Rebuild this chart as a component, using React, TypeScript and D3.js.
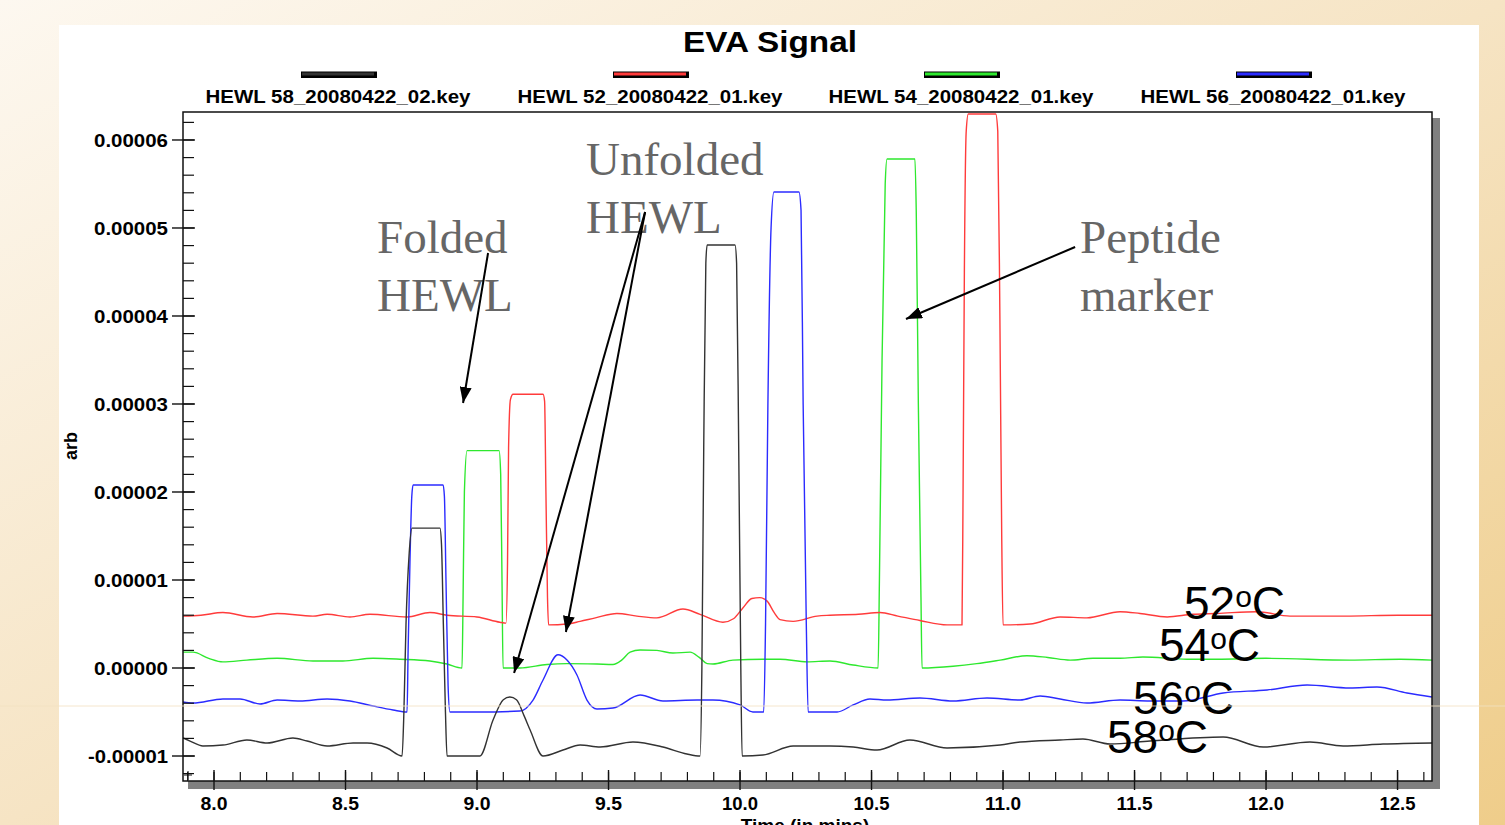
import React from 'react';
import * as d3 from 'd3';

const W = 1505;
const H = 825;

const titleText = 'EVA Signal';
const xAxisTitle = 'Time (in mins)';
const yAxisTitle = 'arb';

// legend order as in the reference
const seriesNames = [
  'HEWL 58_20080422_02.key',
  'HEWL 52_20080422_01.key',
  'HEWL 54_20080422_01.key',
  'HEWL 56_20080422_01.key',
];
const seriesColors = ['#333333', '#ff3b3b', '#2ee82e', '#2b2bff'];

const xMajorTicks = [8.0, 8.5, 9.0, 9.5, 10.0, 10.5, 11.0, 11.5, 12.0, 12.5];
const xTickLabels = ['8.0', '8.5', '9.0', '9.5', '10.0', '10.5', '11.0', '11.5', '12.0', '12.5'];
// values in units of 1e-6 arb
const yMajorTicks = [-10, 0, 10, 20, 30, 40, 50, 60];
const yTickLabels = ['-0.00001', '0.00000', '0.00001', '0.00002', '0.00003', '0.00004', '0.00005', '0.00006'];

// [time (min), signal (1e-6 arb)]
const hewl58: [number, number][] = [
  [7.882, -7.95], [7.909, -8.3], [7.958, -8.86], [8.034, -8.75], [8.125, -8.18], [8.202, -8.52],
  [8.300, -7.95], [8.354, -8.3], [8.430, -8.86], [8.529, -8.52], [8.582, -8.52], [8.658, -9.09],
  [8.715, -10.0], [8.722, -5], [8.730, 5], [8.742, 13], [8.753, 15.9], [8.859, 15.9], [8.865, 14],
  [8.872, 5], [8.880, -5], [8.886, -10.0], [9.011, -10.0], [9.061, -5.91], [9.100, -3.6], [9.125, -3.3],
  [9.150, -3.6], [9.180, -5.5], [9.202, -7.05], [9.251, -10.0], [9.327, -9.32], [9.392, -8.75],
  [9.468, -8.98], [9.593, -8.41], [9.707, -8.98], [9.798, -9.77], [9.848, -10.0], [9.855, 0], [9.862, 25],
  [9.870, 46], [9.875, 48.07], [9.981, 48.07], [9.987, 46], [9.995, 25], [10.003, 0], [10.008, -10.0],
  [10.087, -9.89], [10.202, -8.86], [10.342, -8.86], [10.430, -8.98], [10.521, -9.32], [10.646, -8.18],
  [10.787, -9.09], [10.989, -8.75], [11.065, -8.41], [11.217, -8.18], [11.304, -8.07], [11.407, -8.64],
  [11.559, -8.3], [11.837, -7.84], [11.989, -8.98], [12.167, -8.41], [12.293, -8.86], [12.445, -8.64],
  [12.631, -8.52],
];

const hewl52: [number, number][] = [
  [7.882, 5.9], [7.95, 6.0], [8.034, 6.3], [8.148, 5.8], [8.240, 6.2], [8.376, 5.9], [8.430, 6.1],
  [8.517, 5.8], [8.593, 6.1], [8.734, 5.8], [8.821, 6.3], [8.886, 6.0], [9.000, 5.8], [9.087, 5.2],
  [9.110, 5.1], [9.116, 12], [9.120, 25], [9.127, 30.5], [9.137, 31.1], [9.251, 31.1], [9.257, 30.3],
  [9.262, 20], [9.268, 8], [9.272, 4.9], [9.342, 5.0], [9.392, 5.3], [9.45, 5.7], [9.532, 6.2],
  [9.608, 5.9], [9.684, 5.7], [9.783, 6.7], [9.848, 6.1], [9.935, 5.2], [9.975, 5.6], [10.01, 6.8],
  [10.045, 7.9], [10.075, 8.0], [10.103, 7.6], [10.13, 6.3], [10.152, 5.5], [10.202, 5.3], [10.293, 5.9],
  [10.342, 6.0], [10.45, 6.1], [10.532, 6.3], [10.60, 5.9], [10.684, 5.4], [10.787, 4.9], [10.844, 4.9],
  [10.848, 20], [10.853, 45], [10.860, 61], [10.868, 62.95], [10.972, 62.95], [10.980, 61], [10.988, 40],
  [10.995, 15], [11.000, 4.9], [11.103, 5.0], [11.217, 5.8], [11.319, 5.7], [11.445, 6.4], [11.521, 6.2],
  [11.624, 5.8], [11.72, 6.1], [11.814, 6.2], [11.966, 6.4], [12.091, 5.9], [12.30, 5.9], [12.50, 6.0],
  [12.631, 6.0],
];

const hewl54: [number, number][] = [
  [7.882, 1.8], [7.920, 1.8], [7.98, 1.1], [8.034, 0.7], [8.125, 0.9], [8.240, 1.1], [8.376, 0.8],
  [8.490, 0.8], [8.605, 1.1], [8.707, 1.0], [8.821, 0.8], [8.886, 0.45], [8.943, 0.0], [8.947, 8],
  [8.952, 20], [8.962, 24.7], [9.084, 24.7], [9.090, 22], [9.095, 10], [9.099, 0.0], [9.163, 0.0],
  [9.266, 0.4], [9.342, 0.5], [9.456, 0.45], [9.517, 0.4], [9.55, 0.9], [9.582, 1.8], [9.620, 2.05],
  [9.684, 2.0], [9.745, 1.7], [9.810, 1.8], [9.845, 1.2], [9.875, 0.5], [9.897, 0.45], [9.973, 0.9],
  [10.087, 1.0], [10.152, 1.0], [10.255, 0.7], [10.342, 0.8], [10.430, 0.34], [10.525, 0.0], [10.530, 10],
  [10.540, 35], [10.552, 55], [10.559, 57.84], [10.665, 57.84], [10.670, 52], [10.678, 30], [10.688, 8],
  [10.692, 0.0], [10.810, 0.2], [10.90, 0.5], [10.989, 0.9], [11.091, 1.4], [11.17, 1.2], [11.255, 0.9],
  [11.342, 1.1], [11.445, 1.1], [11.532, 1.25], [11.70, 1.0], [11.814, 1.0], [12.0, 1.1], [12.319, 0.9],
  [12.510, 1.0], [12.631, 0.9],
];

const hewl56: [number, number][] = [
  [7.882, -3.86], [7.920, -3.98], [8.034, -3.52], [8.099, -3.52], [8.175, -4.09], [8.240, -3.64],
  [8.327, -3.75], [8.430, -3.52], [8.517, -3.75], [8.605, -4.32], [8.681, -4.77], [8.734, -5.0],
  [8.738, 2], [8.745, 12], [8.752, 19.5], [8.757, 20.8], [8.871, 20.8], [8.876, 19.5], [8.882, 10],
  [8.890, -2], [8.897, -5.0], [9.011, -5.0], [9.163, -4.89], [9.213, -3.64], [9.251, -1.36], [9.308, 1.5],
  [9.342, 0.9], [9.380, -0.8], [9.418, -3.64], [9.456, -4.66], [9.517, -4.55], [9.620, -3.07],
  [9.707, -3.75], [9.837, -3.64], [9.897, -3.64], [10.000, -4.2], [10.049, -5.0], [10.090, -5.0],
  [10.097, 5], [10.106, 30], [10.118, 50], [10.129, 54.09], [10.224, 54.09], [10.232, 52], [10.240, 30],
  [10.252, 5], [10.259, -5.0], [10.369, -5.0], [10.430, -4.2], [10.494, -3.52], [10.559, -3.64],
  [10.684, -3.41], [10.810, -3.75], [10.939, -3.41], [11.065, -3.64], [11.141, -3.18], [11.217, -3.52],
  [11.319, -3.98], [11.445, -3.64], [11.559, -3.75], [11.684, -3.75], [11.837, -2.84], [12.004, -2.5],
  [12.156, -1.93], [12.319, -2.27], [12.422, -2.16], [12.536, -2.84], [12.631, -3.3],
];

const seriesData = [hewl58, hewl52, hewl54, hewl56];

// annotation arrows in data coordinates [from, to]
const arrows: [[number, number], [number, number]][] = [
  [[9.042, 47.16], [8.947, 30.11]],
  [[9.639, 51.82], [9.141, -0.57]],
  [[9.639, 51.82], [9.338, 4.09]],
  [[11.274, 47.84], [10.631, 39.66]],
];

const tempLabels = ['52', '54', '56', '58'];

export default function App() {
  const L = 183, R = 1432, T = 112, B = 781;
  const x = d3.scaleLinear().domain([7.8821, 12.631]).range([L, R]);
  const y = d3.scaleLinear().domain([-12.84, 63.18]).range([B, T]);
  const line = d3.line<[number, number]>().x((d) => x(d[0])).y((d) => y(d[1])).curve(d3.curveMonotoneX);

  const xMinor = d3.range(79, 127).map((v) => v / 10);
  const yMinor = d3.range(-12, 63, 2);

  const legendCx = [338, 650, 961, 1273];
  const tempPos = [
    [1184, 619],
    [1159, 661],
    [1133, 714],
    [1107, 753],
  ];
  const drawOrder = [2, 1, 3, 0];
  const sans = "'Liberation Sans', Arial, sans-serif";
  const serif = "'Liberation Serif', 'Times New Roman', serif";

  return (
    <svg width={W} height={H} style={{ position: 'absolute', left: 0, top: 0 }}
      xmlns="http://www.w3.org/2000/svg">
      <defs>
        <linearGradient id="bg" x1="0" y1="0" x2="1" y2="1">
          <stop offset="0" stopColor="#fdf8f0" />
          <stop offset="0.5" stopColor="#f6e4c4" />
          <stop offset="1" stopColor="#efcd8a" />
        </linearGradient>
        <clipPath id="plot">
          <rect x={L} y={T} width={R - L} height={B - T} />
        </clipPath>
        <marker id="ah" viewBox="0 0 16 12" refX="16" refY="6" markerWidth="16" markerHeight="12"
          markerUnits="userSpaceOnUse" orient="auto">
          <path d="M0,0 L16,6 L0,12 z" fill="#000" />
        </marker>
      </defs>
      <rect x={0} y={0} width={W} height={H} fill="url(#bg)" />
      <rect x={59} y={25} width={1420} height={H - 25} fill="#ffffff" />

      {/* title */}
      <text x={770} y={52} textAnchor="middle" fontFamily={sans} fontWeight="bold" fontSize={29}
        textLength={174} lengthAdjust="spacingAndGlyphs">{titleText}</text>

      {/* legend */}
      {seriesNames.map((n, i) => (
        <g key={n}>
          <rect x={legendCx[i] - 37} y={71.5} width={76} height={6.5} fill="#000" />
          <rect x={legendCx[i] - 36} y={72.5} width={72} height={3} fill={seriesColors[i]} />
          <text x={legendCx[i]} y={103} textAnchor="middle" fontFamily={sans} fontWeight="bold"
            fontSize={18} textLength={265} lengthAdjust="spacingAndGlyphs">{n}</text>
        </g>
      ))}

      {/* shadow */}
      <rect x={R} y={T + 6} width={8} height={B - T + 2} fill="#808080" />
      <rect x={L + 5} y={B} width={R - L + 3} height={8} fill="#808080" />

      {/* traces */}
      <g clipPath="url(#plot)">
        {drawOrder.map((i) => (
          <path key={i} d={line(seriesData[i]) || ''} fill="none" stroke={seriesColors[i]}
            strokeWidth={1.4} strokeLinejoin="round" />
        ))}
      </g>

      {/* frame */}
      <rect x={L} y={T} width={R - L} height={B - T} fill="none" stroke="#111" strokeWidth={1.5} />

      {/* y ticks */}
      {yMinor.map((v) => (
        <line key={'ym' + v} x1={L} x2={L + 11} y1={y(v)} y2={y(v)} stroke="#111" strokeWidth={1.2} />
      ))}
      {yMajorTicks.map((v, i) => (
        <g key={'yM' + v}>
          <line x1={L - 11} x2={L + 12} y1={y(v)} y2={y(v)} stroke="#111" strokeWidth={1.4} />
          <text x={168} y={y(v) + 7} textAnchor="end" fontFamily={sans} fontWeight="bold" fontSize={19}
            textLength={v < 0 ? 80 : 74} lengthAdjust="spacingAndGlyphs">{yTickLabels[i]}</text>
        </g>
      ))}

      {/* x ticks */}
      {xMinor.map((v) => (
        <line key={'xm' + v} x1={x(v)} x2={x(v)} y1={B - 9} y2={B} stroke="#111" strokeWidth={1.2} />
      ))}
      {xMajorTicks.map((v, i) => (
        <g key={'xM' + v}>
          <line x1={x(v)} x2={x(v)} y1={B - 11} y2={B + 9} stroke="#111" strokeWidth={1.4} />
          <text x={x(v)} y={810} textAnchor="middle" fontFamily={sans} fontWeight="bold" fontSize={19}
            textLength={xTickLabels[i].length > 3 ? 36 : 27} lengthAdjust="spacingAndGlyphs">{xTickLabels[i]}</text>
        </g>
      ))}
      <path d={`M${L + 1},${B - 6} h8 M${L + 5},${B - 10} v9`} stroke="#111" strokeWidth={1} />

      {/* axis titles */}
      <text x={805} y={832} textAnchor="middle" fontFamily={sans} fontWeight="bold" fontSize={19}>{xAxisTitle}</text>
      <text transform="translate(77,446) rotate(-90)" textAnchor="middle" fontFamily={sans} fontWeight="bold"
        fontSize={18}>{yAxisTitle}</text>

      {/* annotations */}
      <g fontFamily={serif} fontSize={47} fill="#666666">
        <text x={377} y={253}>Folded</text>
        <text x={377} y={311}>HEWL</text>
        <text x={586} y={175}>Unfolded</text>
        <text x={586} y={233}>HEWL</text>
        <text x={1080} y={253}>Peptide</text>
        <text x={1080} y={311}>marker</text>
      </g>
      {arrows.map((a, i) => (
        <line key={'ar' + i} x1={x(a[0][0])} y1={y(a[0][1])} x2={x(a[1][0])} y2={y(a[1][1])}
          stroke="#000" strokeWidth={2} markerEnd="url(#ah)" />
      ))}

      {/* temperature labels */}
      {tempLabels.map((t, i) => (
        <text key={t} x={tempPos[i][0]} y={tempPos[i][1]} fontFamily={sans} fontSize={46} fill="#000">
          {t}
          <tspan fontSize={30} dy={-12}>o</tspan>
          <tspan dy={12}>C</tspan>
        </text>
      ))}

      {/* faint slide artifact line */}
      <line x1={0} x2={W} y1={706} y2={706} stroke="#f3e2c2" strokeWidth={1} opacity={0.8} />
    </svg>
  );
}
